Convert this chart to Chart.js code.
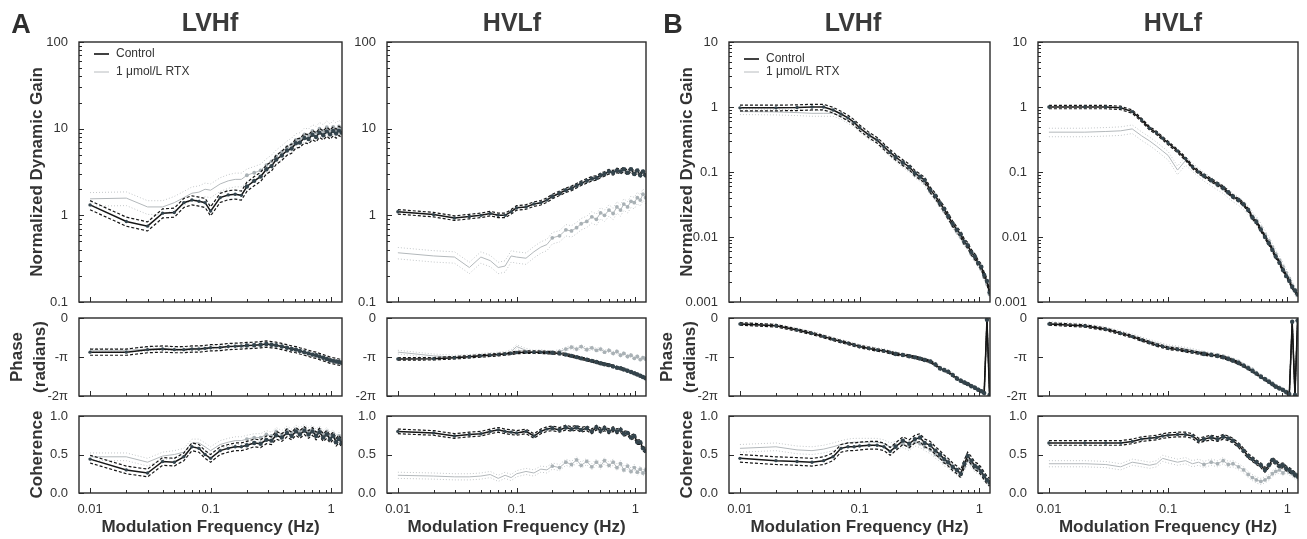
<!DOCTYPE html>
<html>
<head>
<meta charset="utf-8">
<title>Dynamic gain, phase and coherence</title>
<script src="https://cdn.jsdelivr.net/npm/chart.js@4.4.1/dist/chart.umd.min.js"></script>
<style>
  html, body { margin: 0; padding: 0; background: #fff; }
  body { position: relative; width: 1307px; height: 539px; overflow: hidden;
         font-family: Arial, "Liberation Sans", sans-serif; color: #3a3a3a; }
  canvas { position: absolute; }
  .t { position: absolute; font-weight: bold; transform: translate(-50%, -50%); white-space: nowrap; }
</style>
</head>
<body>
<script>
// modulation frequencies (Hz)
const freq = [0.01,0.02,0.03,0.04,0.05,0.06,0.07,0.08,0.09,0.10,
  0.12,0.14,0.16,0.18,0.20,0.23,0.26,0.29,0.32,0.35,
  0.39,0.43,0.47,0.51,0.55,0.60,0.65,0.70,0.75,0.80,
  0.86,0.92,0.98,1.04,1.10,1.16,1.22];

// normalized dynamic gain
const gainA_LVHf_ctl = [1.32,0.85,0.75,1.06,1.08,1.4,1.5,1.45,1.4,1.12, 1.6,1.72,1.75,1.7,2.15, 2.5,2.8,3.4,3.7,4.4, 4.9,5.6,5.9,6.8,6.9, 7.8,7.6,8.5,8.0,9.0, 8.4,9.3,8.6,9.4,8.8, 9.5,9.0];
const gainA_LVHf_rtx = [1.55,1.58,1.25,1.25,1.4,1.6,1.8,1.85,2.0,1.95, 2.3,2.5,2.6,2.6,2.9, 3.1,3.3,3.8,4.2,4.8, 5.4,6.1,6.6,7.4,7.6, 8.6,8.4,9.4,9.0,10.0, 9.4,10.4,9.6,10.5,9.8, 10.6,10.0];
const gainA_HVLf_ctl = [1.1,1.02,0.93,0.97,1.0,1.05,1.0,1.0,1.1,1.22, 1.25,1.35,1.4,1.5,1.65, 1.8,1.95,2.05,2.2,2.35, 2.5,2.65,2.7,2.9,3.0, 3.2,3.1,3.3,3.2,3.4, 3.1,3.4,3.0,3.3,2.9, 3.2,2.9];
const gainA_HVLf_rtx = [0.37,0.34,0.33,0.25,0.33,0.3,0.25,0.26,0.34,0.33, 0.32,0.38,0.43,0.46,0.55, 0.58,0.68,0.66,0.72,0.8, 0.85,0.96,0.9,1.07,1.0, 1.15,1.05,1.25,1.15,1.35, 1.25,1.45,1.4,1.6,1.5, 1.75,1.6];
const gainB_LVHf_ctl = [0.97,0.97,0.98,1.0,1.0,0.9,0.78,0.68,0.58,0.48, 0.37,0.31,0.245,0.2,0.17, 0.14,0.12,0.096,0.085,0.075, 0.053,0.043,0.033,0.027,0.021, 0.016,0.013,0.011,0.0085,0.0075, 0.0058,0.005,0.004,0.0035,0.0026, 0.0021,0.0014];
const gainB_LVHf_rtx = [0.85,0.84,0.82,0.8,0.8,0.8,0.72,0.62,0.55,0.46, 0.35,0.3,0.23,0.19,0.16, 0.13,0.11,0.09,0.08,0.068, 0.05,0.04,0.031,0.025,0.02, 0.015,0.012,0.01,0.008,0.007, 0.0055,0.0046,0.0038,0.0032,0.0024, 0.0019,0.0013];
const gainB_HVLf_ctl = [1.0,1.0,1.0,0.97,0.85,0.63,0.47,0.4,0.33,0.28, 0.21,0.16,0.12,0.1,0.088, 0.075,0.065,0.057,0.049,0.042, 0.037,0.032,0.026,0.02,0.017, 0.013,0.01,0.008,0.0063,0.005, 0.004,0.0031,0.0025,0.0021,0.0017, 0.0015,0.0013];
const gainB_HVLf_rtx = [0.41,0.41,0.42,0.43,0.46,0.36,0.3,0.25,0.21,0.18, 0.107,0.15,0.12,0.1,0.085, 0.072,0.062,0.055,0.047,0.041, 0.036,0.031,0.026,0.021,0.018, 0.014,0.011,0.0088,0.007,0.0055, 0.0044,0.0035,0.0028,0.0023,0.0018, 0.0015,0.0013];

// phase (radians)
const phaseA_LVHf_ctl = [-2.75,-2.75,-2.55,-2.5,-2.55,-2.55,-2.5,-2.5,-2.45,-2.4, -2.38,-2.3,-2.28,-2.25,-2.22, -2.2,-2.15,-2.1,-2.15,-2.2, -2.3,-2.4,-2.5,-2.55,-2.65, -2.75,-2.85,-2.95,-3.0,-3.1, -3.2,-3.3,-3.4,-3.45,-3.5, -3.55,-3.6];
const phaseA_LVHf_rtx = [-2.6,-2.6,-2.5,-2.45,-2.5,-2.5,-2.45,-2.45,-2.4,-2.35, -2.35,-2.3,-2.25,-2.22,-2.2, -2.18,-2.15,-2.12,-2.15,-2.22, -2.3,-2.4,-2.5,-2.55,-2.65, -2.75,-2.85,-2.95,-3.0,-3.1, -3.2,-3.3,-3.4,-3.45,-3.5, -3.55,-3.6];
const phaseA_HVLf_ctl = [-3.3,-3.28,-3.2,-3.12,-3.05,-3.0,-2.95,-2.9,-2.85,-2.78, -2.75,-2.75,-2.76,-2.78,-2.8, -2.85,-2.95,-3.05,-3.15,-3.25, -3.35,-3.45,-3.55,-3.65,-3.72, -3.8,-3.9,-4.0,-4.05,-4.15, -4.25,-4.35,-4.45,-4.55,-4.65, -4.75,-4.85];
const phaseA_HVLf_rtx = [-2.75,-3.05,-3.15,-3.1,-3.0,-2.95,-2.9,-2.85,-2.7,-2.3, -2.6,-2.75,-2.7,-2.78,-2.8, -2.7,-2.5,-2.35,-2.5,-2.3, -2.55,-2.4,-2.6,-2.5,-2.75, -2.6,-2.85,-2.7,-3.0,-2.85, -3.1,-3.0,-3.25,-3.1,-3.35, -3.2,-3.3];
const phaseB_LVHf_ctl = [-0.48,-0.62,-0.97,-1.24,-1.5,-1.72,-1.9,-2.04,-2.18,-2.3, -2.45,-2.58,-2.66,-2.78,-2.9, -2.98,-3.08,-3.17,-3.27,-3.38, -3.5,-3.75,-4.06,-4.2,-4.33, -4.6,-4.87,-5.05,-5.2,-5.32, -5.5,-5.62,-5.78,-5.9,-6.05, -0.15,-6.2];
const phaseB_LVHf_rtx = [-0.45,-0.6,-0.92,-1.2,-1.45,-1.68,-1.85,-2.0,-2.12,-2.25, -2.4,-2.52,-2.6,-2.72,-2.85, -2.95,-3.05,-3.15,-3.25,-3.35, -3.48,-3.72,-4.0,-4.15,-4.3, -4.55,-4.82,-5.0,-5.15,-5.3, -5.45,-5.6,-5.75,-5.88,-6.02, -0.1,-6.18];
const phaseB_HVLf_ctl = [-0.48,-0.64,-0.91,-1.24,-1.5,-1.77,-1.99,-2.18,-2.3,-2.44, -2.53,-2.64,-2.74,-2.82,-2.9, -2.98,-3.06,-3.17,-3.3,-3.44, -3.62,-3.84,-4.05,-4.27,-4.48, -4.73,-4.93,-5.13,-5.33,-5.54, -5.68,-5.8,-5.98,-6.13,-0.3, -6.2,-0.2];
const phaseB_HVLf_rtx = [-0.42,-0.58,-0.85,-1.15,-1.4,-1.65,-1.85,-2.02,-2.15,-2.28, -2.38,-2.48,-2.58,-2.7,-2.8, -2.9,-2.98,-3.08,-3.2,-3.35, -3.5,-3.75,-3.95,-4.15,-4.4, -4.65,-4.88,-5.05,-5.25,-5.45, -5.6,-5.75,-5.92,-6.05,-0.3, -6.15,-0.2];

// coherence
const cohA_LVHf_ctl = [0.44,0.3,0.26,0.41,0.4,0.47,0.6,0.58,0.5,0.45, 0.55,0.58,0.6,0.6,0.62, 0.65,0.64,0.69,0.68,0.75, 0.72,0.78,0.74,0.8,0.76, 0.81,0.76,0.8,0.74,0.79, 0.72,0.76,0.7,0.74,0.66, 0.7,0.65];
const cohA_LVHf_rtx = [0.47,0.47,0.4,0.48,0.5,0.53,0.65,0.65,0.6,0.55, 0.63,0.66,0.68,0.68,0.7, 0.72,0.72,0.76,0.74,0.8, 0.76,0.82,0.78,0.83,0.8, 0.84,0.8,0.83,0.78,0.82, 0.76,0.8,0.74,0.77,0.7, 0.74,0.68];
const cohA_HVLf_ctl = [0.8,0.78,0.74,0.76,0.77,0.8,0.82,0.8,0.79,0.78, 0.8,0.74,0.8,0.83,0.84, 0.82,0.85,0.83,0.85,0.82, 0.84,0.8,0.85,0.81,0.84, 0.8,0.83,0.8,0.82,0.77, 0.78,0.72,0.74,0.66,0.66, 0.58,0.55];
const cohA_HVLf_rtx = [0.23,0.22,0.21,0.21,0.22,0.24,0.19,0.23,0.2,0.25, 0.28,0.26,0.31,0.3,0.35, 0.33,0.4,0.37,0.43,0.36, 0.41,0.34,0.4,0.35,0.42, 0.36,0.4,0.33,0.38,0.3, 0.35,0.28,0.33,0.27,0.31, 0.26,0.3];
const cohB_LVHf_ctl = [0.45,0.42,0.41,0.4,0.42,0.47,0.58,0.6,0.6,0.61, 0.62,0.62,0.6,0.54,0.6, 0.68,0.64,0.7,0.72,0.65, 0.62,0.55,0.5,0.44,0.4, 0.34,0.3,0.25,0.38,0.48, 0.42,0.35,0.33,0.28,0.22, 0.17,0.14];
const cohB_LVHf_rtx = [0.58,0.6,0.56,0.55,0.57,0.6,0.63,0.65,0.66,0.66, 0.66,0.66,0.64,0.6,0.62, 0.64,0.6,0.66,0.64,0.6, 0.56,0.5,0.46,0.4,0.38, 0.32,0.28,0.24,0.34,0.42, 0.38,0.32,0.3,0.26,0.2, 0.16,0.12];
const cohB_HVLf_ctl = [0.65,0.65,0.65,0.65,0.67,0.7,0.71,0.72,0.74,0.75, 0.76,0.76,0.74,0.68,0.7, 0.72,0.7,0.73,0.71,0.68, 0.62,0.55,0.48,0.44,0.4, 0.36,0.3,0.36,0.43,0.4, 0.35,0.36,0.32,0.3,0.27, 0.24,0.22];
const cohB_HVLf_rtx = [0.38,0.38,0.37,0.34,0.4,0.38,0.36,0.38,0.45,0.43, 0.4,0.42,0.38,0.4,0.37, 0.4,0.38,0.42,0.37,0.38, 0.34,0.3,0.24,0.2,0.17, 0.15,0.17,0.2,0.25,0.28, 0.3,0.26,0.3,0.27,0.25, 0.22,0.2];

// error band half widths [control, RTX] per column (gain: fraction)
const gainSE  = [[0.12,0.18],[0.06,0.15],[0.10,0.10],[0.06,0.15]];
const phaseSE = [[0.25,0.15],[0.10,0.15],[0.10,0.12],[0.10,0.12]];
const cohSE   = [[0.05,0.05],[0.03,0.04],[0.05,0.05],[0.03,0.04]];

// labels and ticks
const seriesNames = ['Control', '1 \u03bcmol/L RTX'];
const columnTitles = ['LVHf', 'HVLf', 'LVHf', 'HVLf'];
const panelLetters = ['A', 'B'];
const gainTicksA = [0.1, 1, 10, 100];
const gainLabelsA = ['0.1', '1', '10', '100'];
const gainTicksB = [0.001, 0.01, 0.1, 1, 10];
const gainLabelsB = ['0.001', '0.01', '0.1', '1', '10'];
const phaseTicks = [0, -Math.PI, -2 * Math.PI];
const phaseLabels = ['0', '-\u03c0', '-2\u03c0'];
const cohTicks = [0, 0.5, 1];
const cohLabels = ['0.0', '0.5', '1.0'];
const freqTicks = [0.01, 0.1, 1];
const freqLabels = ['0.01', '0.1', '1'];

Chart.defaults.font.family = 'Arial, "Liberation Sans", sans-serif';
Chart.defaults.color = '#333';

// layout of the plot boxes (pixels)
const cols = [
  {L: 79, R: 342, axisW: 79},
  {L: 387, R: 646, axisW: 45},
  {L: 729, R: 990, axisW: 79},
  {L: 1038, R: 1298, axisW: 45}
];
const rows = [
  {T: 42, B: 302, below: 12},
  {T: 318, B: 396, below: 12},
  {T: 416, B: 493, below: 46}
];
const PADTOP = 8, PADRIGHT = 4;
const XMIN = 0.0081, XMAX = 1.23;

function minorLog(majors, lo, hi) {
  let out = [];
  majors.forEach(d => {
    for (let k = 1; k <= 9; k++) {
      let v = d * k;
      if (v >= lo && v <= hi) out.push({v: v, major: k === 1});
    }
  });
  return out;
}
const xTickMarks = minorLog([0.01, 0.1, 1], XMIN, XMAX);

// frame + inward tick marks + optional legend
const framePlugin = {
  id: 'frame',
  afterDraw(chart) {
    const o = chart.options.plugins.frame;
    const {ctx, chartArea: a} = chart;
    const x = chart.scales.x, y = chart.scales.y;
    ctx.save();
    ctx.strokeStyle = '#2a2a2a';
    ctx.lineWidth = 1;
    ctx.beginPath();
    xTickMarks.forEach(t => {
      const px = Math.round(x.getPixelForValue(t.v)) + 0.5;
      ctx.moveTo(px, a.bottom);
      ctx.lineTo(px, a.bottom - (t.major ? 5 : 3));
    });
    o.yMarks.forEach(t => {
      const py = Math.round(y.getPixelForValue(t.v)) + 0.5;
      ctx.moveTo(a.left, py);
      ctx.lineTo(a.left + (t.major ? 5 : 3), py);
    });
    ctx.stroke();
    ctx.lineWidth = 1.4;
    ctx.strokeRect(a.left, a.top, a.right - a.left, a.bottom - a.top);
    if (o.legend) {
      const ys = o.legend;
      ctx.font = '12px Arial, "Liberation Sans", sans-serif';
      ctx.textBaseline = 'middle';
      ctx.fillStyle = '#333';
      ctx.lineWidth = 1.6;
      ctx.strokeStyle = '#111';
      ctx.beginPath(); ctx.moveTo(a.left + 15, a.top + ys[0]); ctx.lineTo(a.left + 30, a.top + ys[0]); ctx.stroke();
      ctx.strokeStyle = '#b8bcbf';
      ctx.lineWidth = 1;
      ctx.beginPath(); ctx.moveTo(a.left + 15, a.top + ys[1]); ctx.lineTo(a.left + 30, a.top + ys[1]); ctx.stroke();
      ctx.fillText(seriesNames[0], a.left + 37, a.top + ys[0]);
      ctx.fillText(seriesNames[1], a.left + 37, a.top + ys[1]);
    }
    ctx.restore();
  }
};

function pts(arr) {
  return freq.map((f, i) => ({x: f, y: arr[i]}));
}

function makePanel(ci, ri, ctl, rtx, se, yc, legend) {
  const c = cols[ci], r = rows[ri];
  const cv = document.createElement('canvas');
  const w = c.R - c.L + c.axisW + PADRIGHT;
  const h = r.B - r.T + PADTOP + r.below;
  cv.width = w; cv.height = h;
  cv.style.width = w + 'px'; cv.style.height = h + 'px';
  cv.style.left = (c.L - c.axisW) + 'px';
  cv.style.top = (r.T - PADTOP) + 'px';
  document.body.appendChild(cv);

  const isLog = yc.type === 'logarithmic';
  const hi = (v, s) => isLog ? v * (1 + s) : v + s;
  const lo = (v, s) => isLog ? v * (1 - s) : v - s;
  const showX = ri === 2;
  const leftCol = ci === 0 || ci === 2;

  const ctlColor = '#161616', ctlPoint = '#34444c';
  const rtxColor = '#b3b8bb', rtxPoint = '#a9b1b5', rtxBand = '#c3c7c9';

  new Chart(cv, {
    type: 'line',
    data: {
      datasets: [
        {data: pts(ctl), borderColor: ctlColor, borderWidth: 1.5,
         pointRadius: ctx => freq[ctx.dataIndex] >= 0.2 ? 2.2 : 1.7,
         pointBackgroundColor: ctlPoint, pointBorderWidth: 0},
        {data: pts(ctl.map(v => hi(v, se[0]))), borderColor: ctlColor, borderWidth: 1.2,
         borderDash: [3, 2], pointRadius: 0},
        {data: pts(ctl.map(v => lo(v, se[0]))), borderColor: ctlColor, borderWidth: 1.2,
         borderDash: [3, 2], pointRadius: 0},
        {data: pts(rtx), borderColor: rtxColor, borderWidth: 1,
         pointRadius: ctx => freq[ctx.dataIndex] >= 0.2 ? 1.9 : 0,
         pointBackgroundColor: rtxPoint, pointBorderWidth: 0},
        {data: pts(rtx.map(v => hi(v, se[1]))), borderColor: rtxBand, borderWidth: 1,
         borderDash: [1, 2], pointRadius: 0},
        {data: pts(rtx.map(v => lo(v, se[1]))), borderColor: rtxBand, borderWidth: 1,
         borderDash: [1, 2], pointRadius: 0}
      ]
    },
    options: {
      responsive: false,
      animation: false,
      devicePixelRatio: 1,
      layout: {padding: {top: PADTOP, right: PADRIGHT, left: 0, bottom: 0}},
      plugins: {
        legend: {display: false},
        tooltip: {enabled: false},
        frame: {yMarks: yc.marks, legend: legend}
      },
      scales: {
        x: {
          type: 'logarithmic', min: XMIN, max: XMAX,
          grid: {display: false}, border: {display: false},
          afterBuildTicks: s => { s.ticks = freqTicks.map(v => ({value: v})); },
          afterFit: s => { s.height = r.below; s.paddingLeft = s.paddingRight = s.paddingTop = s.paddingBottom = 0; },
          ticks: {display: showX, autoSkip: false, maxRotation: 0, padding: 1,
                  font: {size: 13}, color: '#333',
                  callback: v => freqLabels[freqTicks.indexOf(v)]},
          title: {display: showX, text: 'Modulation Frequency (Hz)',
                  font: {size: 17, weight: 'bold'}, color: '#333',
                  padding: {top: 0, bottom: 1}}
        },
        y: {
          type: yc.type, min: yc.min, max: yc.max,
          grid: {display: false}, border: {display: false},
          afterBuildTicks: s => { s.ticks = yc.ticks.map(v => ({value: v})); },
          afterFit: s => { s.width = c.axisW; s.paddingLeft = s.paddingRight = s.paddingTop = s.paddingBottom = 0; },
          ticks: {autoSkip: false, padding: 3, font: {size: 13}, color: '#333',
                  callback: v => {
                    const i = yc.ticks.findIndex(t => Math.abs(t - v) < 1e-9 * Math.max(1, Math.abs(t)));
                    return i >= 0 ? yc.labels[i] : '';
                  }},
          title: {display: leftCol, text: yc.title,
                  font: {size: 17, weight: 'bold', lineHeight: yc.titleLH}, color: '#333',
                  padding: {top: yc.titlePad, bottom: 0}}
        }
      }
    },
    plugins: [framePlugin]
  });
}

const gainCfgA = {type: 'logarithmic', min: 0.1, max: 100, ticks: gainTicksA, labels: gainLabelsA,
  marks: minorLog(gainTicksA, 0.1, 100), title: 'Normalized Dynamic Gain', titleLH: 1.2, titlePad: 27};
const gainCfgB = {type: 'logarithmic', min: 0.001, max: 10, ticks: gainTicksB, labels: gainLabelsB,
  marks: minorLog(gainTicksB, 0.001, 10), title: 'Normalized Dynamic Gain', titleLH: 1.2, titlePad: 27};
const phaseCfg = {type: 'linear', min: -2 * Math.PI, max: 0, ticks: phaseTicks, labels: phaseLabels,
  marks: phaseTicks.map(v => ({v: v, major: true})), title: ['Phase', '(radians)'], titleLH: 1.35, titlePad: 6};
const cohCfg = {type: 'linear', min: 0, max: 1, ticks: cohTicks, labels: cohLabels,
  marks: cohTicks.map(v => ({v: v, major: true})), title: 'Coherence', titleLH: 1.2, titlePad: 27};

// column A LVHf, A HVLf, B LVHf, B HVLf
makePanel(0, 0, gainA_LVHf_ctl, gainA_LVHf_rtx, gainSE[0], gainCfgA, [12, 30]);
makePanel(1, 0, gainA_HVLf_ctl, gainA_HVLf_rtx, gainSE[1], gainCfgA, null);
makePanel(2, 0, gainB_LVHf_ctl, gainB_LVHf_rtx, gainSE[2], gainCfgB, [17, 30]);
makePanel(3, 0, gainB_HVLf_ctl, gainB_HVLf_rtx, gainSE[3], gainCfgB, null);

makePanel(0, 1, phaseA_LVHf_ctl, phaseA_LVHf_rtx, phaseSE[0], phaseCfg, null);
makePanel(1, 1, phaseA_HVLf_ctl, phaseA_HVLf_rtx, phaseSE[1], phaseCfg, null);
makePanel(2, 1, phaseB_LVHf_ctl, phaseB_LVHf_rtx, phaseSE[2], phaseCfg, null);
makePanel(3, 1, phaseB_HVLf_ctl, phaseB_HVLf_rtx, phaseSE[3], phaseCfg, null);

makePanel(0, 2, cohA_LVHf_ctl, cohA_LVHf_rtx, cohSE[0], cohCfg, null);
makePanel(1, 2, cohA_HVLf_ctl, cohA_HVLf_rtx, cohSE[1], cohCfg, null);
makePanel(2, 2, cohB_LVHf_ctl, cohB_LVHf_rtx, cohSE[2], cohCfg, null);
makePanel(3, 2, cohB_HVLf_ctl, cohB_HVLf_rtx, cohSE[3], cohCfg, null);

// headings
const titleX = [210, 512, 853, 1173];
columnTitles.forEach((t, i) => {
  const d = document.createElement('div');
  d.className = 't';
  d.textContent = t;
  d.style.left = titleX[i] + 'px';
  d.style.top = '22px';
  d.style.fontSize = '25px';
  document.body.appendChild(d);
});
const letterX = [21, 673];
panelLetters.forEach((t, i) => {
  const d = document.createElement('div');
  d.className = 't';
  d.textContent = t;
  d.style.left = letterX[i] + 'px';
  d.style.top = '24px';
  d.style.fontSize = '27px';
  d.style.color = '#2e2e2e';
  document.body.appendChild(d);
});
</script>
</body>
</html>
